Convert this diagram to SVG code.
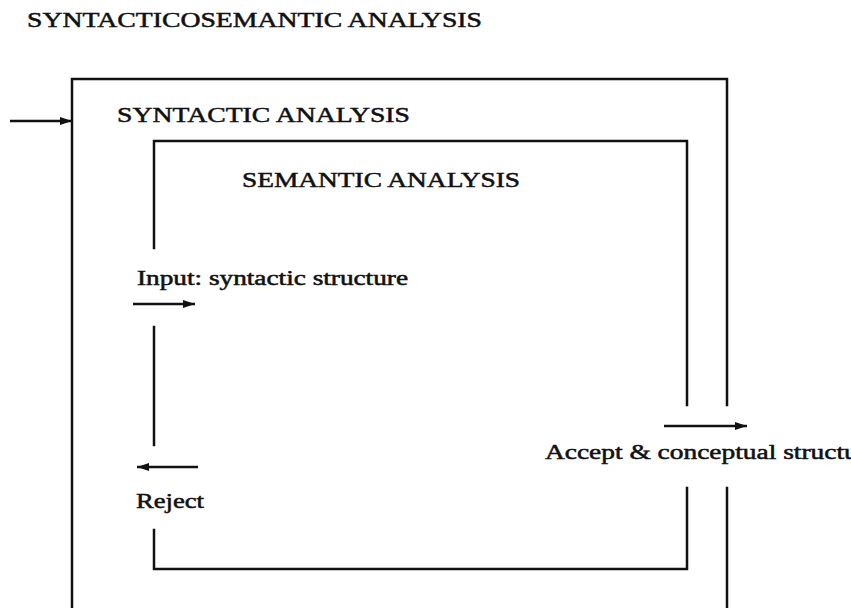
<svg xmlns="http://www.w3.org/2000/svg" width="851" height="608" viewBox="0 0 851 608">
<style>
.t{font-family:"Liberation Serif","Times New Roman",serif;fill:#111;stroke:#111;stroke-width:0.5;}
.cap{font-size:22px;}
.lbl{font-size:20px;}
.ln{stroke:#111;stroke-width:2.5;fill:none;stroke-linecap:square;}
.ar{stroke:#111;stroke-width:2.5;fill:none;}
</style>
<defs>
<marker id="ah" viewBox="0 0 12 8" refX="12" refY="4" markerWidth="12" markerHeight="8" markerUnits="userSpaceOnUse" orient="auto">
<path d="M0,0 L12,4 L0,8 Z" fill="#111"/>
</marker>
</defs>
<rect width="851" height="608" fill="#fff"/>
<text class="t cap" x="27" y="27" textLength="455" lengthAdjust="spacingAndGlyphs">SYNTACTICOSEMANTIC ANALYSIS</text>
<g id="syntactic">
<path class="ln" d="M72,620 L72,79 L727,79 L727,405"/>
<path class="ln" d="M727,488 L727,620"/>
<text class="t cap" x="117" y="122" textLength="293" lengthAdjust="spacingAndGlyphs">SYNTACTIC ANALYSIS</text>
</g>
<g id="semantic">
<path class="ln" d="M154,248 L154,141 L687,141 L687,405"/>
<path class="ln" d="M154,327 L154,445"/>
<path class="ln" d="M154,530 L154,569 L687,569 L687,488"/>
<text class="t cap" x="242" y="187" textLength="278" lengthAdjust="spacingAndGlyphs">SEMANTIC ANALYSIS</text>
</g>
<g id="labels">
<text class="t lbl" x="137" y="285" textLength="271" lengthAdjust="spacingAndGlyphs">Input: syntactic structure</text>
<text class="t lbl" x="136" y="508" textLength="68" lengthAdjust="spacingAndGlyphs">Reject</text>
<text class="t lbl" x="545" y="459" textLength="334" lengthAdjust="spacingAndGlyphs">Accept &amp; conceptual structure</text>
</g>
<g id="connectors">
<line class="ar" x1="10" y1="121" x2="72" y2="121" marker-end="url(#ah)"/>
<line class="ar" x1="133" y1="304" x2="195" y2="304" marker-end="url(#ah)"/>
<line class="ar" x1="198" y1="467" x2="137" y2="467" marker-end="url(#ah)"/>
<line class="ar" x1="664" y1="426" x2="747" y2="426" marker-end="url(#ah)"/>
</g>
</svg>
